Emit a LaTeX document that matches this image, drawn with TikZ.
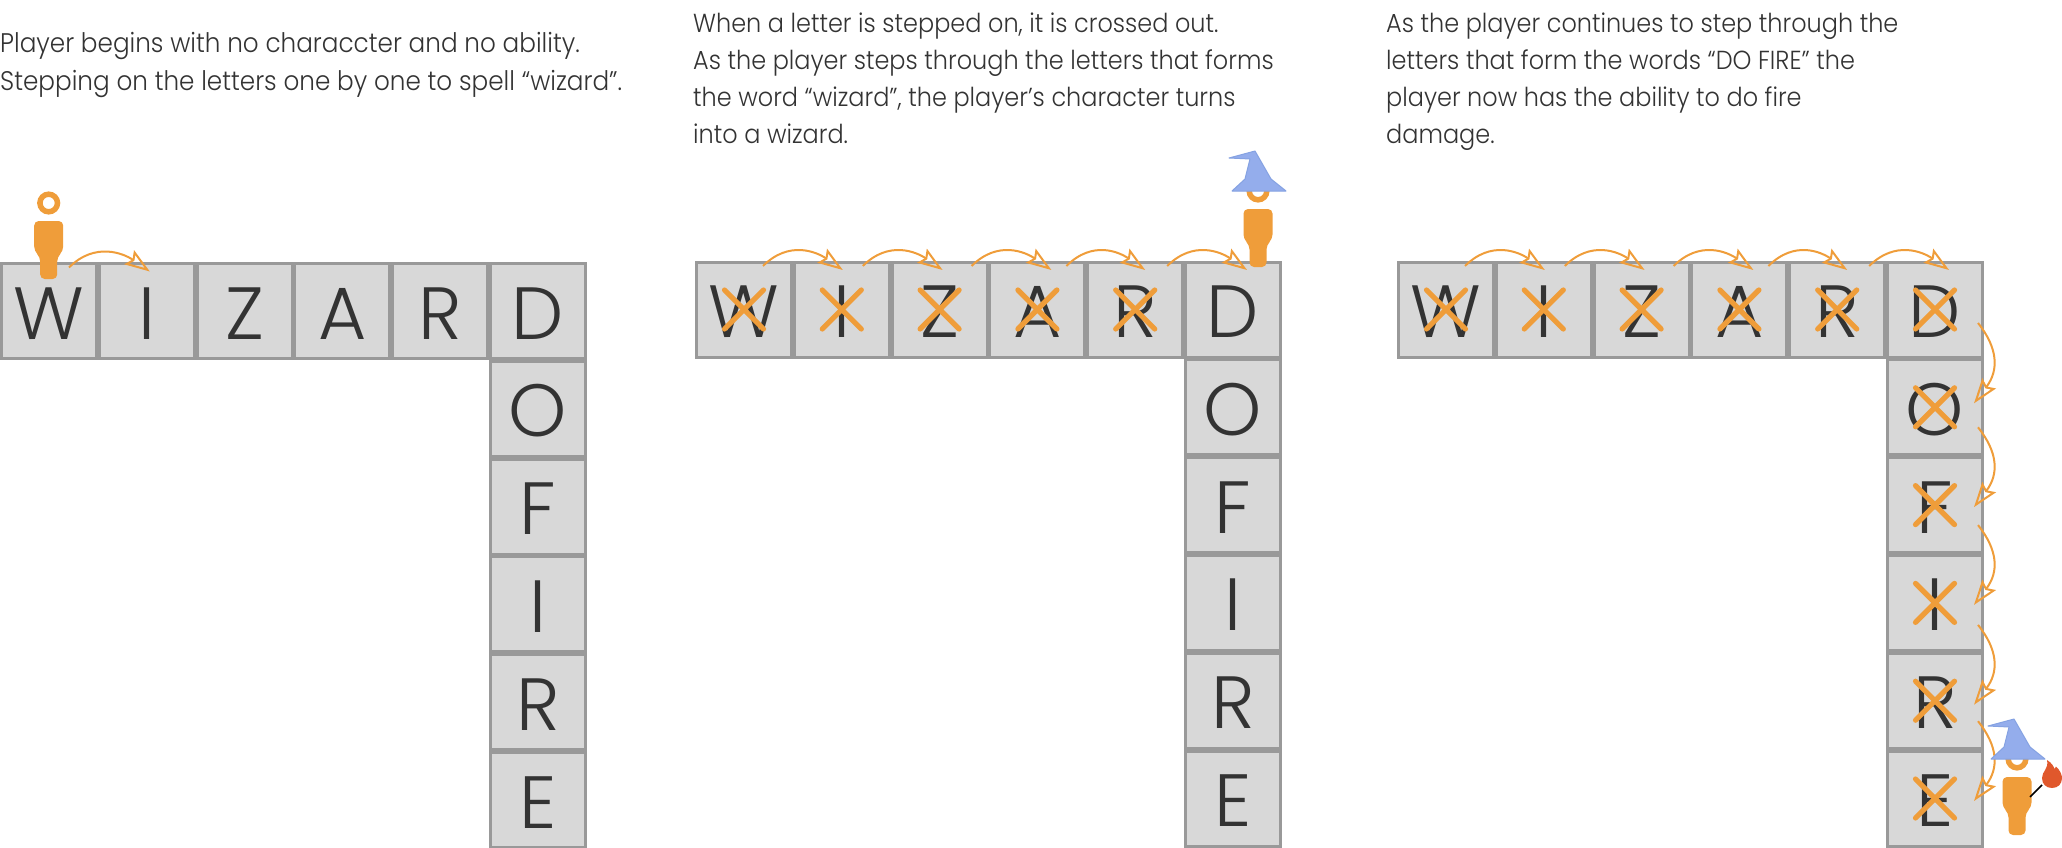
\documentclass[tikz,border=0pt]{standalone}
\usepackage{fontspec}
\setmainfont{Poppins}[UprightFont=* Light,FakeStretch=0.918]
\newfontfamily\bigf{Poppins}[UprightFont=* Light]
\usetikzlibrary{arrows.meta}
\definecolor{ora}{HTML}{EF9D3A}
\definecolor{ink}{HTML}{333333}
\definecolor{boxf}{HTML}{D8D8D8}
\definecolor{boxe}{HTML}{999999}
\definecolor{hatc}{HTML}{94ADEC}
\definecolor{hate}{HTML}{85A2E2}
\definecolor{flame}{HTML}{E0582C}
\tikzset{x=1pt,y=-1pt,
 cell/.style={draw=boxe,fill=boxf,line width=3pt,minimum size=95pt,inner sep=0pt,outer sep=0pt,text=ink,text height=56pt,text depth=0pt,font=\bigf\fontsize{74}{74}\selectfont},
 note/.style={anchor=north west,align=left,text=ink,inner sep=0pt,font=\fontsize{26.1}{37}\selectfont},
 notewide/.style={note,font=\fontsize{26.9}{38}\selectfont},
 cross/.style={draw=ora,line width=5.2pt,line cap=round},
 hop/.style={draw=ora,line width=2pt,-{Stealth[open,length=25pt,width=17pt,inset=4pt,line width=2pt]}}}
\newcommand{\cells}[3]{%
 \foreach \L [count=\i from 0] in {W,I,Z,A,R,D}{\node[cell] (#3t\i) at ({#1+49+97.8*\i},{#2+48.5}) {\L};}
 \foreach \L [count=\i from 1] in {O,F,I,R,E}{\node[cell] (#3d\i) at ({#1+49+97.8*5},{#2+48.5+97.8*\i}) {\L};}
}
\newcommand{\crossat}[1]{%
 \draw[cross] ([shift={(-19.5,-19.5)}]#1.center) -- ([shift={(19.5,19.5)}]#1.center);
 \draw[cross] ([shift={(-19.5,19.5)}]#1.center) -- ([shift={(19.5,-19.5)}]#1.center);}
\newcommand{\hhop}[4]{%
 \coordinate (hs) at ([shift={(#3,-43.5)}]#1.center);
 \coordinate (he) at ([shift={(#4,-39.5)}]#2.center);
 \draw[hop] (hs) .. controls +(26,-26) and +(-26,-18) .. (he);}
\newcommand{\vhop}[4]{%
 \coordinate (hs) at ([shift={(43,#3)}]#1.center);
 \coordinate (he) at ([shift={(39,#4)}]#2.center);
 \draw[hop] (hs) .. controls +(20,25) and +(25,-33) .. (he);}
\newcommand{\toprow}[1]{%
 \crossat{#1t0}\crossat{#1t1}\crossat{#1t2}\crossat{#1t3}\crossat{#1t4}%
 \hhop{#1t0}{#1t1}{19}{1}\hhop{#1t1}{#1t2}{21}{3}\hhop{#1t2}{#1t3}{32}{14}\hhop{#1t3}{#1t4}{29}{10}\hhop{#1t4}{#1t5}{32}{14}}
\newcommand{\player}[2]{%
 \begin{scope}[shift={(#1,#2)}]
 \draw[ora,line width=5.5pt] (0,-18) circle (8.8);
 \fill[ora,rounded corners=4.5pt] (-14.5,0) -- (14.5,0) -- (14.5,30) -- (8.5,36) -- (8.5,58) -- (-8.5,58) -- (-8.5,36) -- (-14.5,30) -- cycle;
 \end{scope}}
\newcommand{\hatp}[2]{%
 \begin{scope}[shift={(#1,#2)}]
 \filldraw[fill=hatc,draw=hate,line width=1pt,line join=round] (-29,-51) -- (-3,-58) -- (13,-30) -- (28,-18) -- (-26,-18) -- (-13,-30) -- (-8,-50) -- cycle;
 \end{scope}}
\begin{document}
\begin{tikzpicture}
\useasboundingbox (0,0) rectangle (2062,848);
\node[notewide] (n1) at (0,32) {Player begins with no characcter and no ability.\\Stepping on the letters one by one to spell “wizard”.};
\node[note] (n2) at (693,13) {When a letter is stepped on, it is crossed out.\\As the player steps through the letters that forms\\the word “wizard”, the player’s character turns\\into a wizard.};
\node[note] (n3) at (1386,13) {As the player continues to step through the\\letters that form the words “DO FIRE” the\\player now has the ability to do fire\\damage.};
\cells{0}{262.5}{a}
\cells{695}{261}{b}
\cells{1397}{261}{c}
% panel 1
\hhop{at0}{at1}{20}{3}
\player{48.7}{221}
% panel 2
\toprow{b}
\player{1258}{209}
\hatp{1258}{209}
% panel 3
\toprow{c}
\crossat{ct5}\crossat{cd1}\crossat{cd2}\crossat{cd3}\crossat{cd4}\crossat{cd5}
\vhop{ct5}{cd1}{13.5}{-4}
\vhop{cd1}{cd2}{20}{2}
\vhop{cd2}{cd3}{20}{2}
\vhop{cd3}{cd4}{22}{4}
\vhop{cd4}{cd5}{20.5}{2.5}
\player{2017}{777}
\hatp{2017}{777}
\draw[black,line width=1.6pt] (2042,785) -- (2030,797);
\fill[flame] (2047,760) .. controls (2052,763) and (2054,767) .. (2054.5,769) .. controls (2055.5,768.5) and (2056,767.5) .. (2056,766.5) .. controls (2060,770) and (2062,775) .. (2062,778) .. controls (2062,784) and (2058,788) .. (2052,788) .. controls (2046,788) and (2042,784) .. (2042,778) .. controls (2042,771) and (2049,769) .. cycle;
\end{tikzpicture}
\end{document}
